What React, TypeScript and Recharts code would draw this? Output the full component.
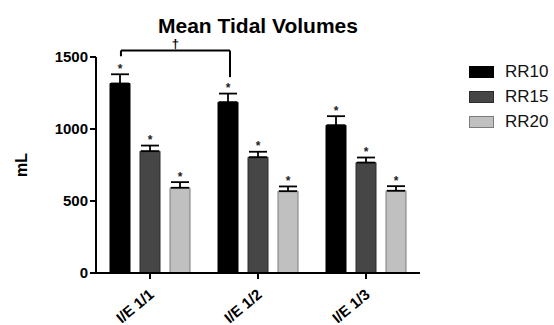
import React from "react";
import {
  BarChart,
  Bar,
  XAxis,
  YAxis,
  ErrorBar,
  LabelList,
  Legend,
  ReferenceLine
} from "recharts";

const FONT = '"Liberation Sans", Arial, Helvetica, sans-serif';

const categories = ["I/E 1/1", "I/E 1/2", "I/E 1/3"];
const rr10 = [1316, 1186, 1026];
const rr10Err = [64, 60, 63];
const rr15 = [846, 804, 767];
const rr15Err = [39, 38, 35];
const rr20 = [592, 568, 571];
const rr20Err = [39, 33, 32];
const yTicks = [0, 500, 1000, 1500];

// significance bracket between RR10 of I/E 1/1 and I/E 1/2
// x on the hidden numeric axis (0..2 across the plot)
const bracketX = [0.154, 0.827];
const bracketTop = 1545;
const bracketLeftBottom = 1505;
const bracketRightBottom = 1360;

const series = [
  { key: "rr10", err: "rr10Err", errs: rr10Err, name: "RR10", fill: "#000000", stroke: "#000000" },
  { key: "rr15", err: "rr15Err", errs: rr15Err, name: "RR15", fill: "#464646", stroke: "#2c2c2c" },
  { key: "rr20", err: "rr20Err", errs: rr20Err, name: "RR20", fill: "#c0c0c0", stroke: "#7c7c7c" }
];

const data = categories.map((name, i) => ({
  name,
  rr10: rr10[i],
  rr10Err: [0, rr10Err[i]],
  rr15: rr15[i],
  rr15Err: [0, rr15Err[i]],
  rr20: rr20[i],
  rr20Err: [0, rr20Err[i]]
}));

function starLabel(errs: number[]) {
  return (props: any) => {
    const { x, y, width, height, value, index } = props;
    if (value == null || !height) return null;
    const errPx = (errs[index] * height) / value;
    return (
      <text
        x={x + width / 2}
        y={y - errPx - 1.5}
        textAnchor="middle"
        fontFamily={FONT}
        fontWeight="bold"
        fontSize={12}
        fill="#222"
      >
        *
      </text>
    );
  };
}

function AngledTick({ x, y, payload }: any) {
  const ax = x + 1.5;
  const ay = y + 11;
  return (
    <text
      x={ax}
      y={ay}
      dy="0.35em"
      transform={`rotate(-40, ${ax}, ${ay})`}
      textAnchor="end"
      fontFamily={FONT}
      fontWeight="bold"
      fontSize={15}
      fill="#000"
    >
      {payload.value}
    </text>
  );
}

function LegendBox() {
  return (
    <div style={{ fontFamily: FONT }}>
      {series.map((s) => (
        <div key={s.key} style={{ display: "flex", alignItems: "center", height: 25 }}>
          <div
            style={{
              width: 23,
              height: 10,
              background: s.fill,
              border: `1px solid ${s.stroke}`,
              marginRight: 11
            }}
          />
          <span style={{ fontSize: 17, color: "#111" }}>{s.name}</span>
        </div>
      ))}
    </div>
  );
}

export default function App() {
  return (
    <div style={{ position: "absolute", left: 0, top: 0, width: 554, height: 325, background: "#fff" }}>
      <div
        style={{
          position: "absolute",
          left: 0,
          top: 15,
          width: 516,
          textAlign: "center",
          fontFamily: FONT,
          fontWeight: "bold",
          fontSize: 21,
          lineHeight: "21px",
          color: "#000"
        }}
      >
        Mean Tidal Volumes
      </div>
      <BarChart
        width={554}
        height={325}
        data={data}
        margin={{ top: 57, right: 134, bottom: 0, left: 0 }}
        barSize={20}
        barGap={10}
      >
        <XAxis
          dataKey="name"
          height={52}
          stroke="#000"
          strokeWidth={2}
          tickSize={6}
          tick={<AngledTick />}
          interval={0}
        />
        <XAxis xAxisId="num" type="number" domain={[0, 2]} allowDataOverflow hide />
        <YAxis
          width={96}
          domain={[0, 1500]}
          ticks={yTicks}
          stroke="#000"
          strokeWidth={2}
          tickSize={6}
          tick={{ fill: "#000", fontFamily: FONT, fontWeight: "bold", fontSize: 15 }}
          label={{
            value: "mL",
            angle: -90,
            position: "insideLeft",
            offset: 21,
            style: { textAnchor: "middle", fontFamily: FONT, fontWeight: "bold", fontSize: 16, fill: "#000" }
          }}
        />
        {series.map((s) => (
          <Bar
            key={s.key}
            dataKey={s.key}
            name={s.name}
            fill={s.fill}
            stroke={s.stroke}
            strokeWidth={1}
            isAnimationActive={false}
          >
            <ErrorBar dataKey={s.err} direction="y" width={9} stroke="#000" strokeWidth={1.8} />
            <LabelList dataKey={s.key} content={starLabel(s.errs)} />
          </Bar>
        ))}
        <ReferenceLine
          xAxisId="num"
          ifOverflow="visible"
          stroke="#000"
          strokeWidth={2}
          segment={[
            { x: bracketX[0], y: bracketLeftBottom },
            { x: bracketX[0], y: bracketTop }
          ]}
        />
        <ReferenceLine
          xAxisId="num"
          ifOverflow="visible"
          stroke="#000"
          strokeWidth={2}
          segment={[
            { x: bracketX[0], y: bracketTop },
            { x: bracketX[1], y: bracketTop }
          ]}
          label={{ value: "†", position: "top", offset: 3, fill: "#000", fontSize: 13, fontWeight: "bold", fontFamily: FONT }}
        />
        <ReferenceLine
          xAxisId="num"
          ifOverflow="visible"
          stroke="#000"
          strokeWidth={2}
          segment={[
            { x: bracketX[1], y: bracketTop },
            { x: bracketX[1], y: bracketRightBottom }
          ]}
        />
        <Legend
          layout="vertical"
          align="center"
          verticalAlign="middle"
          wrapperStyle={{ left: 469, top: 59.5, width: 85 }}
          content={() => <LegendBox />}
        />
      </BarChart>
    </div>
  );
}
